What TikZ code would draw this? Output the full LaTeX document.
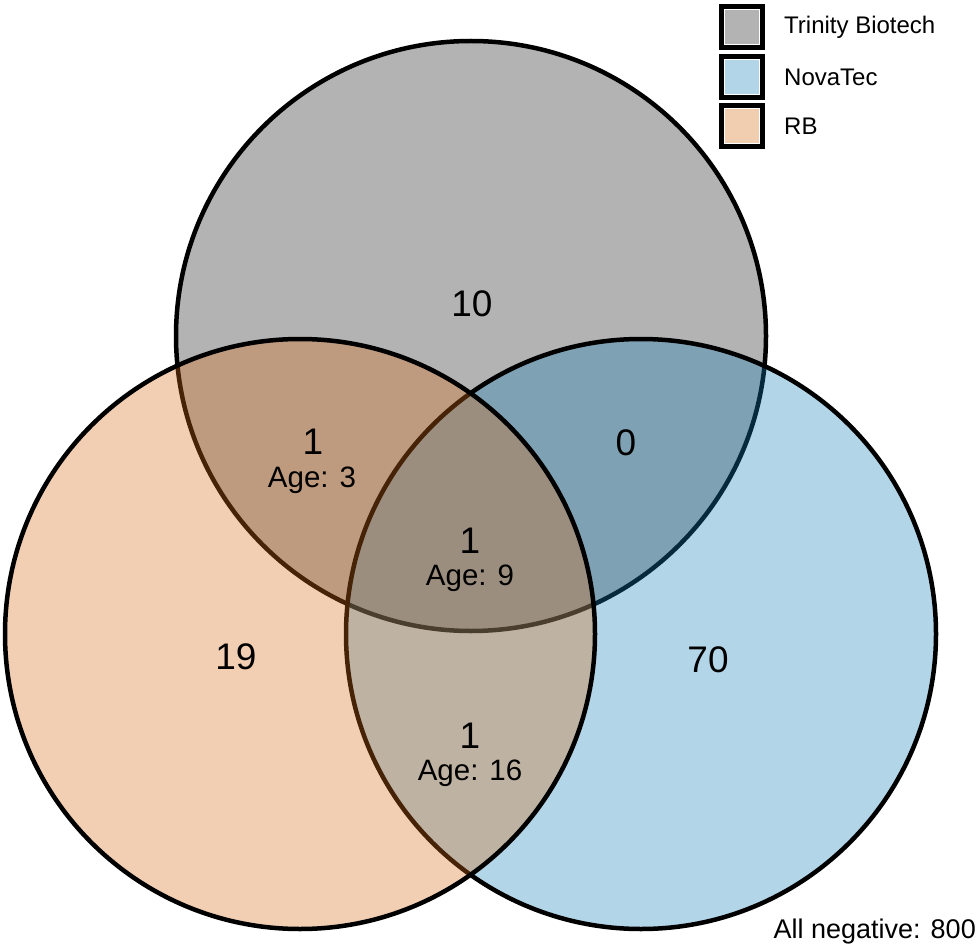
\documentclass[tikz,border=0pt]{standalone}
\usepackage{fontspec}
\setmainfont{Liberation Sans}
\definecolor{tbgray}{RGB}{179,179,179}
\definecolor{nvblue}{RGB}{21,127,185}
\definecolor{rbpeach}{RGB}{215,106,21}
\definecolor{nvlight}{RGB}{178,213,231}
\definecolor{rblight}{RGB}{242,206,176}
\tikzset{
  setring/.style={line width=4.5pt, draw=black},
  bignum/.style={font=\fontsize{37}{42}\selectfont, inner sep=0pt},
  agelbl/.style={font=\fontsize{29.5}{34}\selectfont, inner sep=0pt},
  legtext/.style={font=\fontsize{24}{28}\selectfont, anchor=west, inner sep=0pt},
  legframe/.style={line width=5pt, draw=black, fill=white},
  legfill/.style={draw=white, line width=1.2pt}
}
\begin{document}
\begin{tikzpicture}[x=1pt,y=-1pt]
\useasboundingbox (0,0) rectangle (980,952);
% circles (order: Trinity Biotech, NovaTec, RB)
\draw[setring, fill=tbgray] (471,336) circle[radius=295];
\draw[setring, fill=nvblue, fill opacity=0.33] (641,634) circle[radius=295];
\draw[setring, fill=rbpeach, fill opacity=0.33] (300,634) circle[radius=295];
% region labels
\node[bignum] (tonly) at (472,304) {10};
\node[bignum] (tronly) at (626,443) {0};
\node[bignum] (lonly) at (236,657) {19};
\node[bignum] (ronly) at (708,660) {70};
\node[bignum] (tl) at (313,442) {1};
\node[agelbl] (tlage) at (312,480) {Age: 3};
\node[bignum] (ctr) at (470,541) {1};
\node[agelbl] (ctrage) at (470,578) {Age: 9};
\node[bignum] (bot) at (470,736) {1};
\node[agelbl] (botage) at (470,773) {Age: 16};
% legend
\draw[legframe] (721.5,6.5) rectangle (762.5,47.5);
\draw[legfill, fill=tbgray] (724.6,9.6) rectangle (759.4,44.4);
\draw[legframe] (721.5,56.5) rectangle (762.5,97.5);
\draw[legfill, fill=nvlight] (724.6,59.6) rectangle (759.4,94.4);
\draw[legframe] (721.5,105.5) rectangle (762.5,146.5);
\draw[legfill, fill=rblight] (724.6,108.6) rectangle (759.4,143.4);
\node[legtext] (legtb) at (784,27) {Trinity Biotech};
\node[legtext] (legnv) at (784,77) {NovaTec};
\node[legtext] (legrb) at (784,126) {RB};
% footer
\node[font=\fontsize{27}{30}\selectfont, anchor=east, inner sep=0pt] (allneg) at (976,932) {All negative: 800};
\end{tikzpicture}
\end{document}
